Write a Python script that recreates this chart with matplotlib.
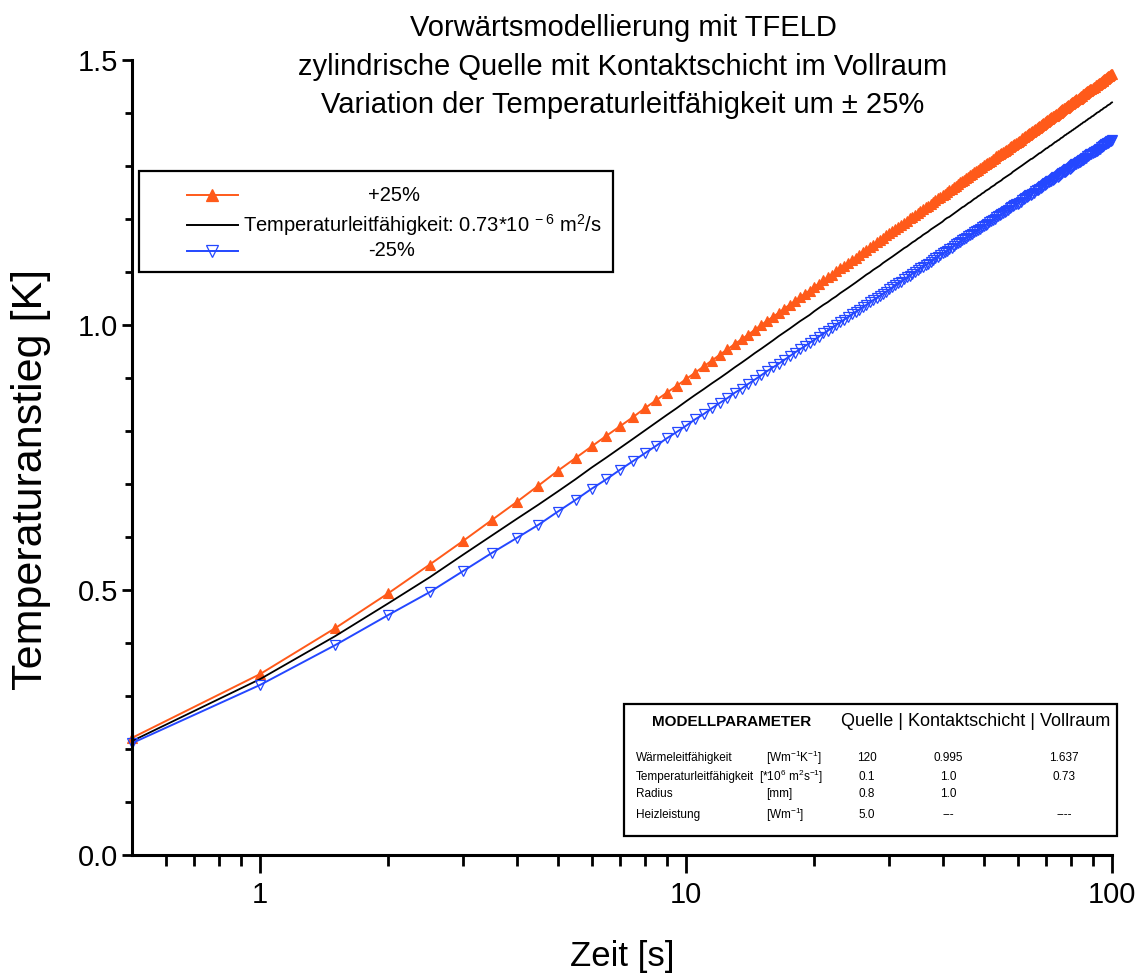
import numpy as np
import matplotlib
matplotlib.use("Agg")
import matplotlib.pyplot as plt
from matplotlib.lines import Line2D
from matplotlib.patches import Rectangle
from matplotlib.ticker import FixedLocator, NullFormatter, MultipleLocator

plt.rcParams['font.family'] = ['Liberation Sans', 'DejaVu Sans']
plt.rcParams['mathtext.fontset'] = 'custom'
plt.rcParams['mathtext.rm'] = 'Liberation Sans'
plt.rcParams['mathtext.it'] = 'Liberation Sans:italic'

# Zeit [s]: Stuetzstellen alle 0.5 s von 0.5 bis 100 s
zeit = np.arange(0.5, 100.01, 0.5)

# Temperaturanstieg in mK
plus25_mK = [
    221, 341.5, 428, 494, 548, 593, 632, 666, 697, 725,
    749, 771, 791, 809, 826, 843, 858, 872, 885, 898,
    910, 922, 933, 944, 954, 964, 973, 982, 991, 1000,
    1008, 1016, 1023, 1031, 1038, 1045, 1052, 1059, 1065, 1072,
    1078, 1084, 1090, 1095, 1101, 1107, 1112, 1117, 1122, 1127,
    1132, 1137, 1142, 1147, 1151, 1156, 1160, 1164, 1169, 1173,
    1177, 1181, 1185, 1189, 1193, 1197, 1201, 1204, 1208, 1211,
    1215, 1219, 1222, 1225, 1229, 1232, 1235, 1239, 1242, 1245,
    1248, 1251, 1254, 1257, 1260, 1263, 1266, 1269, 1272, 1274,
    1277, 1280, 1283, 1285, 1288, 1290, 1293, 1296, 1298, 1301,
    1303, 1306, 1308, 1310, 1313, 1315, 1318, 1320, 1322, 1324,
    1327, 1329, 1331, 1333, 1336, 1338, 1340, 1342, 1344, 1346,
    1348, 1350, 1352, 1354, 1356, 1358, 1360, 1362, 1364, 1366,
    1368, 1370, 1372, 1374, 1376, 1378, 1379, 1381, 1383, 1385,
    1387, 1388, 1390, 1392, 1394, 1395, 1397, 1399, 1400, 1402,
    1404, 1405, 1407, 1409, 1410, 1412, 1413, 1415, 1417, 1418,
    1420, 1421, 1423, 1424, 1426, 1427, 1429, 1430, 1432, 1433,
    1435, 1436, 1438, 1439, 1441, 1442, 1443, 1445, 1446, 1448,
    1449, 1450, 1452, 1453, 1454, 1456, 1457, 1458, 1460, 1461,
    1462, 1464, 1465, 1466, 1468, 1469, 1470, 1471, 1473, 1474,
]
referenz_mK = [
    215, 332, 413, 475, 524, 567, 603, 634, 661, 686,
    709, 731, 750, 768, 785, 801, 816, 830, 843, 856,
    868, 879, 890, 900, 910, 920, 929, 938, 947, 955,
    963, 971, 979, 986, 993, 1000, 1007, 1013, 1019, 1026,
    1032, 1038, 1043, 1049, 1054, 1060, 1065, 1070, 1075, 1080,
    1085, 1090, 1095, 1099, 1104, 1108, 1112, 1117, 1121, 1125,
    1129, 1133, 1137, 1141, 1145, 1148, 1152, 1156, 1159, 1163,
    1166, 1170, 1173, 1176, 1180, 1183, 1186, 1189, 1192, 1195,
    1199, 1202, 1204, 1207, 1210, 1213, 1216, 1219, 1222, 1224,
    1227, 1230, 1232, 1235, 1238, 1240, 1243, 1245, 1248, 1250,
    1253, 1255, 1257, 1260, 1262, 1264, 1267, 1269, 1271, 1273,
    1276, 1278, 1280, 1282, 1284, 1286, 1289, 1291, 1293, 1295,
    1297, 1299, 1301, 1303, 1305, 1307, 1309, 1311, 1313, 1314,
    1316, 1318, 1320, 1322, 1324, 1325, 1327, 1329, 1331, 1333,
    1334, 1336, 1338, 1339, 1341, 1343, 1345, 1346, 1348, 1349,
    1351, 1353, 1354, 1356, 1358, 1359, 1361, 1362, 1364, 1365,
    1367, 1368, 1370, 1371, 1373, 1374, 1376, 1377, 1379, 1380,
    1382, 1383, 1384, 1386, 1387, 1389, 1390, 1391, 1393, 1394,
    1395, 1397, 1398, 1400, 1401, 1402, 1403, 1405, 1406, 1407,
    1409, 1410, 1411, 1412, 1414, 1415, 1416, 1417, 1419, 1420,
]
minus25_mK = [
    211, 321, 396, 453, 496, 536, 570, 598, 623, 648,
    670, 691, 709, 727, 743, 758, 772, 786, 798, 810,
    822, 832, 843, 853, 862, 872, 880, 889, 897, 905,
    913, 920, 927, 934, 941, 948, 954, 960, 966, 972,
    978, 984, 989, 995, 1000, 1005, 1010, 1015, 1020, 1025,
    1029, 1034, 1038, 1043, 1047, 1051, 1055, 1059, 1063, 1067,
    1071, 1075, 1079, 1082, 1086, 1090, 1093, 1097, 1100, 1103,
    1107, 1110, 1113, 1116, 1119, 1123, 1126, 1129, 1132, 1135,
    1137, 1140, 1143, 1146, 1149, 1152, 1154, 1157, 1160, 1162,
    1165, 1167, 1170, 1172, 1175, 1177, 1180, 1182, 1184, 1187,
    1189, 1191, 1194, 1196, 1198, 1200, 1203, 1205, 1207, 1209,
    1211, 1213, 1215, 1217, 1220, 1222, 1224, 1226, 1228, 1229,
    1231, 1233, 1235, 1237, 1239, 1241, 1243, 1245, 1246, 1248,
    1250, 1252, 1254, 1255, 1257, 1259, 1260, 1262, 1264, 1266,
    1267, 1269, 1271, 1272, 1274, 1275, 1277, 1279, 1280, 1282,
    1283, 1285, 1286, 1288, 1289, 1291, 1292, 1294, 1295, 1297,
    1298, 1300, 1301, 1303, 1304, 1305, 1307, 1308, 1310, 1311,
    1312, 1314, 1315, 1316, 1318, 1319, 1320, 1322, 1323, 1324,
    1326, 1327, 1328, 1329, 1331, 1332, 1333, 1335, 1336, 1337,
    1338, 1339, 1341, 1342, 1343, 1344, 1345, 1347, 1348, 1349,
]
plus25 = np.array(plus25_mK) / 1000
referenz = np.array(referenz_mK) / 1000
minus25 = np.array(minus25_mK) / 1000

# Modellparameter-Tabelle
param_names = ['Wärmeleitfähigkeit', 'Temperaturleitfähigkeit', 'Radius', 'Heizleistung']
param_units = [r'[Wm$^{-1}$K$^{-1}$]', r'[*10$^{6}$ m$^{2}$s$^{-1}$]', '[mm]', r'[Wm$^{-1}$]']
quelle = ['120', '0.1', '0.8', '5.0']
kontakt = ['0.995', '1.0', '1.0', '---']
vollraum = ['1.637', '0.73', '', '----']

ORANGE = '#ff5a1a'
BLUE = '#2447ff'

W, H = 1143, 976
fig = plt.figure(figsize=(W / 100, H / 100), dpi=100)
ax = fig.add_axes([132 / W, 1 - 855 / H, (1112 - 132) / W, (855 - 60) / H])

ax.plot(zeit, plus25, color=ORANGE, lw=1.4, marker='^', ms=7, mew=0.8, clip_on=False)
ax.plot(zeit, referenz, color='black', lw=1.3, clip_on=False)
ax.plot(zeit, minus25, color=BLUE, lw=1.4, marker='v', ms=7, mfc='none', mew=0.9, clip_on=False)

ax.set_xscale('log')
ax.set_xlim(0.5, 100)
ax.set_ylim(0, 1.5)
ax.set_xticks([1, 10, 100])
ax.set_xticklabels(['1', '10', '100'])
ax.xaxis.set_minor_locator(FixedLocator([0.6, 0.7, 0.8, 0.9, 2, 3, 4, 5, 6, 7, 8, 9,
                                         20, 30, 40, 50, 60, 70, 80, 90]))
ax.xaxis.set_minor_formatter(NullFormatter())
ax.set_yticks([0, 0.5, 1.0, 1.5])
ax.set_yticklabels(['0.0', '0.5', '1.0', '1.5'])
ax.yaxis.set_minor_locator(MultipleLocator(0.1))

for s in ['top', 'right']:
    ax.spines[s].set_visible(False)
for s in ['left', 'bottom']:
    ax.spines[s].set_linewidth(2.2)
ax.tick_params(axis='x', which='major', length=13, width=2, labelsize=21, pad=6)
ax.tick_params(axis='x', which='minor', length=8, width=2)
ax.tick_params(axis='y', which='major', length=7, width=2, labelsize=21, pad=3)
ax.tick_params(axis='y', which='minor', length=5, width=2)

ax.set_xlabel('Zeit [s]', fontsize=25, labelpad=22)
ax.set_ylabel('Temperaturanstieg [K]', fontsize=31)
ax.yaxis.set_label_coords(-0.083, 0.472)


def ftext(x, y, s, **kw):
    fig.text(x / W, 1 - y / H, s, **kw)


# Titel
for yy, line in zip([28, 67, 105], ['Vorwärtsmodellierung mit TFELD',
                                   'zylindrische Quelle mit Kontaktschicht im Vollraum',
                                   'Variation der Temperaturleitfähigkeit um ± 25%']):
    ftext(623, yy, line, fontsize=21, ha='center', va='center')

# Legende
fig.add_artist(Rectangle((139 / W, 1 - 272 / H), (613 - 139) / W, (272 - 171) / H,
                         transform=fig.transFigure, fill=False, lw=1.6, ec='black'))
for yy, col, mk, mfc in [(195, ORANGE, '^', ORANGE), (225, 'black', None, None), (251, BLUE, 'v', 'none')]:
    fig.add_artist(Line2D([187 / W, 238 / W], [1 - yy / H, 1 - yy / H], transform=fig.transFigure,
                          color=col, lw=1.4))
    if mk:
        fig.add_artist(Line2D([212 / W], [1 - yy / H], transform=fig.transFigure,
                              color=col, marker=mk, ms=8, mfc=mfc, mew=0.9, lw=0))
ftext(394, 195, '+25%', fontsize=14.5, ha='center', va='center')
ftext(243, 225, r'Temperaturleitfähigkeit: 0.73*10$^{\ -6}$ m$^{2}$/s', fontsize=14.5, ha='left', va='center')
ftext(392, 251, '-25%', fontsize=14.5, ha='center', va='center')

# Parameterkasten
fig.add_artist(Rectangle((624 / W, 1 - 836 / H), (1117 - 624) / W, (836 - 704) / H,
                         transform=fig.transFigure, fill=False, lw=1.6, ec='black'))
ftext(652, 722, 'MODELLPARAMETER', fontsize=11, fontweight='bold', ha='left', va='center')
ftext(841, 722, 'Quelle | Kontaktschicht | Vollraum', fontsize=13, ha='left', va='center')
row_y = [758, 777, 794, 815]
unit_x = [766, 759, 766, 766]
for i, yy in enumerate(row_y):
    ftext(636, yy, param_names[i], fontsize=8.5, ha='left', va='center')
    ftext(unit_x[i], yy, param_units[i], fontsize=8.5, ha='left', va='center')
    ftext(867, yy, quelle[i], fontsize=8.5, ha='center', va='center')
    ftext(948, yy, kontakt[i], fontsize=8.5, ha='center', va='center')
    ftext(1064, yy, vollraum[i], fontsize=8.5, ha='center', va='center')

fig.savefig('out.png', dpi=100)
